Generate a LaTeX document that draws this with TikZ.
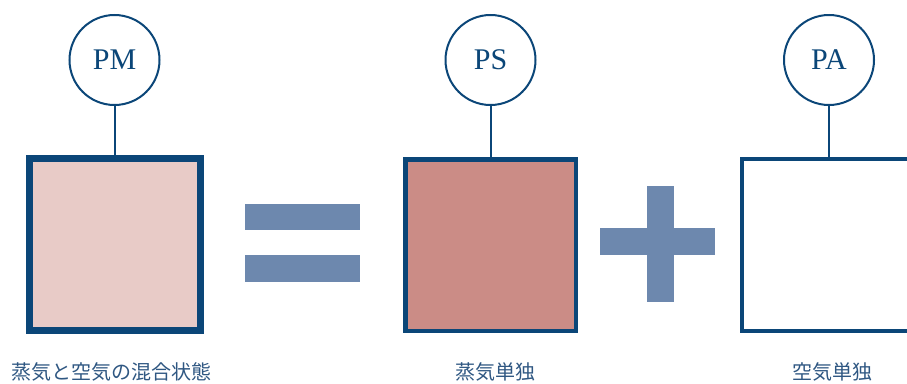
\documentclass[tikz,border=0pt]{standalone}
\usepackage{fontspec}
\setmainfont{Liberation Serif}
\newfontfamily\jpfont{Noto Sans CJK JP}
\definecolor{navy}{HTML}{0B4678}
\definecolor{labelblue}{HTML}{2F5782}
\definecolor{mixfill}{HTML}{E8CBC7}
\definecolor{steamfill}{HTML}{CB8C86}
\definecolor{opblue}{HTML}{6D88AE}
\begin{document}
\begin{tikzpicture}[x=1pt,y=-1pt,
  gauge/.style={circle,draw=navy,line width=2pt,fill=white,minimum size=90pt,inner sep=0pt,
    text=navy,font=\fontsize{30}{30}\selectfont},
  tank/.style={rectangle,draw=navy,inner sep=0pt,outer sep=0pt},
  tag/.style={text=labelblue,font=\jpfont\fontsize{20}{20}\selectfont,inner sep=0pt},
  link/.style={draw=navy,line width=2pt},
  opbar/.style={fill=opblue}]
\useasboundingbox (0,0) rectangle (907,383);
\clip (0,0) rectangle (907,383);

% tanks
\node[tank,line width=7pt,fill=mixfill,minimum width=171pt,minimum height=172pt] (mix) at (114.5,244.5) {};
\node[tank,line width=4.5pt,fill=steamfill,minimum width=170.5pt,minimum height=171.5pt] (steam) at (490.5,245) {};
\node[tank,line width=4pt,fill=white,minimum width=175pt,minimum height=172pt] (air) at (829.5,245) {};

% pressure gauges
\node[gauge] (pm) at (114.5,60) {PM};
\node[gauge] (ps) at (490.5,60) {PS};
\node[gauge] (pa) at (829,60) {PA};

\draw[link] (pm.south) -- (mix.north);
\draw[link] (ps.south) -- (steam.north);
\draw[link] (pa.south) -- (pa.south |- air.north);

% equals sign
\fill[opbar] (245,203.5) rectangle (360,230);
\fill[opbar] (245,255) rectangle (360,281.5);
% plus sign
\fill[opbar] (600,228) rectangle (715,255);
\fill[opbar] (646.5,186) rectangle (673.5,301.5);

% captions
\node[tag] (tmix) at (111.5,372) {蒸気と空気の混合状態};
\node[tag] (tsteam) at (495,372) {蒸気単独};
\node[tag] (tair) at (832,372) {空気単独};
\end{tikzpicture}
\end{document}
